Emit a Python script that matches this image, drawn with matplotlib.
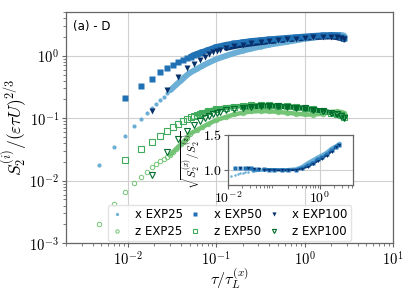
import numpy as np
import matplotlib
matplotlib.use('Agg')
import matplotlib.pyplot as plt
from matplotlib.ticker import LogLocator, NullFormatter

plt.rcParams.update({'font.size': 9,
                     'mathtext.fontset': 'cm'})

# ---- data ----
# x EXP25 (light blue dots)
x25 = [0.0047, 0.0070, 0.0093, 0.0117, 0.0140, 0.0163, 0.0187, 0.0210, 0.0233, 0.0257,
       0.0280, 0.0303, 0.0327, 0.0350, 0.0373, 0.0397, 0.0420, 0.0443, 0.0467, 0.05,
       0.06, 0.07, 0.08, 0.1, 0.13, 0.16, 0.2, 0.25, 0.32, 0.4,
       0.5, 0.63, 0.8, 1.0, 1.25, 1.6, 2.0, 2.3, 2.6, 2.8]
sx25 = [0.0175, 0.034, 0.052, 0.074, 0.097, 0.121, 0.144, 0.168, 0.195, 0.22,
        0.25, 0.28, 0.31, 0.34, 0.37, 0.40, 0.43, 0.46, 0.49, 0.53,
        0.61, 0.69, 0.76, 0.88, 1.0, 1.1, 1.2, 1.3, 1.4, 1.5,
        1.58, 1.66, 1.76, 1.86, 1.94, 2.02, 2.08, 2.12, 2.16, 2.1]
sz25 = [0.0020, 0.0042, 0.0065, 0.0091, 0.0115, 0.0139, 0.0164, 0.0185, 0.0204, 0.0222,
        0.0242, 0.026, 0.029, 0.032, 0.035, 0.038, 0.041, 0.044, 0.048, 0.056,
        0.064, 0.072, 0.080, 0.093, 0.105, 0.115, 0.122, 0.128, 0.13, 0.129,
        0.126, 0.122, 0.118, 0.115, 0.114, 0.118, 0.125, 0.128, 0.125, 0.12]

# EXP50
x50 = [0.0093, 0.0140, 0.0186, 0.0233, 0.0280, 0.0326, 0.0373, 0.0419, 0.0466, 0.0513,
       0.0559, 0.0606, 0.0652, 0.0699, 0.08, 0.1, 0.13, 0.16, 0.2, 0.25,
       0.32, 0.4, 0.5, 0.63, 0.8, 1.0, 1.25, 1.6, 2.0, 2.3, 2.6, 2.8]
sx50 = [0.207, 0.33, 0.43, 0.555, 0.635, 0.72, 0.80, 0.86, 0.92, 0.97,
        1.02, 1.07, 1.11, 1.15, 1.23, 1.38, 1.5, 1.57, 1.65, 1.72,
        1.78, 1.83, 1.88, 1.93, 1.98, 2.03, 2.08, 2.12, 2.15, 2.12, 2.0, 1.9]
sz50 = [0.0216, 0.0323, 0.042, 0.0525, 0.0625, 0.071, 0.081, 0.089, 0.097, 0.104,
        0.109, 0.114, 0.118, 0.122, 0.13, 0.14, 0.148, 0.153, 0.157, 0.16,
        0.161, 0.16, 0.158, 0.155, 0.15, 0.145, 0.138, 0.13, 0.122, 0.118, 0.112, 0.105]

# EXP100
x100 = [0.0186, 0.0280, 0.0373, 0.0466, 0.0559, 0.0652, 0.0746, 0.0839, 0.0932, 0.1025,
        0.1118, 0.13, 0.16, 0.2, 0.25, 0.32, 0.4, 0.5, 0.63, 0.8,
        1.0, 1.25, 1.6, 2.0, 2.3, 2.6, 2.8]
sx100 = [0.13, 0.285, 0.46, 0.63, 0.75, 0.86, 0.96, 1.06, 1.13, 1.2,
         1.25, 1.33, 1.42, 1.5, 1.57, 1.64, 1.7, 1.76, 1.82, 1.88,
         1.93, 1.98, 2.02, 2.03, 1.98, 1.9, 1.82]
sz100 = [0.0125, 0.029, 0.046, 0.063, 0.079, 0.089, 0.10, 0.11, 0.117, 0.122,
         0.127, 0.134, 0.142, 0.148, 0.152, 0.155, 0.156, 0.155, 0.152, 0.148,
         0.143, 0.137, 0.13, 0.122, 0.115, 0.108, 0.102]

# inset: sqrt ratio
ix25 = [0.0116, 0.014, 0.0163, 0.0186, 0.021, 0.0233, 0.028, 0.035, 0.045, 0.06,
        0.08, 0.1, 0.15, 0.2, 0.3, 0.4, 0.55, 0.7, 0.9, 1.1, 1.4, 1.8, 2.2, 2.7]
ir25 = [0.91, 0.925, 0.935, 0.945, 0.955, 0.96, 0.97, 0.98, 0.99, 0.995,
        1.0, 1.0, 1.0, 1.0, 1.01, 1.04, 1.1, 1.14, 1.18, 1.21, 1.25, 1.31, 1.34, 1.38]
ix50 = [0.0140, 0.0186, 0.0233, 0.028, 0.0326, 0.0373, 0.045, 0.06, 0.08, 0.1,
        0.15, 0.2, 0.3, 0.4, 0.55, 0.7, 0.9, 1.1, 1.4, 1.8, 2.2, 2.6]
ir50 = [1.025, 1.025, 1.022, 1.02, 1.018, 1.015, 1.01, 1.005, 1.0, 1.0,
        0.995, 0.995, 1.0, 1.02, 1.06, 1.1, 1.15, 1.18, 1.22, 1.28, 1.33, 1.36]
ix100 = [0.0186, 0.028, 0.0373, 0.0466, 0.06, 0.08, 0.1, 0.15, 0.2, 0.3,
         0.4, 0.55, 0.7, 0.9, 1.1, 1.4, 1.8, 2.2, 2.6]
ir100 = [1.02, 1.02, 1.015, 1.01, 1.0, 0.995, 0.99, 0.99, 0.99, 0.995,
         1.01, 1.04, 1.08, 1.12, 1.16, 1.2, 1.26, 1.32, 1.36]

c_x25, c_x50, c_x100 = '#6baed6', '#2171b5', '#08306b'
c_z25, c_z50, c_z100 = '#74c476', '#41ab5d', '#006d2c'


def dense_tail(ax, x, y, start, color, lw):
    # the real data is so dense here that the markers merge into a band
    x = np.asarray(x)
    y = np.asarray(y)
    m = x >= start
    ax.plot(x[m], y[m], '-', color=color, lw=lw, solid_capstyle='round', zorder=2)


def style_axes(ax):
    ax.grid(True, which='major', color='#d0d0d0', lw=0.8)
    ax.set_axisbelow(True)
    for s in ax.spines.values():
        s.set_color('#666666')
        s.set_linewidth(0.9)
    ax.tick_params(which='both', colors='#666666', labelcolor='black')
    ax.tick_params(which='major', length=3, width=0.8)
    ax.tick_params(which='minor', length=2, width=0.6)


fig = plt.figure(figsize=(4.15, 2.94), dpi=100)
ax = fig.add_axes([0.159, 0.173, 0.788, 0.786])
ax.set_xscale('log')
ax.set_yscale('log')

# z series (green, open)
dense_tail(ax, x25, sz25, 0.03, c_z25, 3.2)
dense_tail(ax, x50, sz50, 0.06, c_z50, 3.4)
dense_tail(ax, x100, sz100, 0.2, c_z100, 3.6)
# x series (blue, filled)
dense_tail(ax, x25, sx25, 0.03, c_x25, 4.2)
dense_tail(ax, x100, sx100, 0.13, c_x100, 4.2)
dense_tail(ax, x50, sx50, 0.05, c_x50, 4.2)

h_x25, = ax.plot(x25, sx25, 'o', ls='none', ms=3, color=c_x25, mec='none', label='x EXP25')
h_z25, = ax.plot(x25, sz25, 'o', ls='none', ms=3.2, mfc='none', mec=c_z25, mew=0.7, label='z EXP25')
h_x50, = ax.plot(x50, sx50, 's', ls='none', ms=4, color=c_x50, mec='none', label='x EXP50')
h_z50, = ax.plot(x50, sz50, 's', ls='none', ms=4, mfc='none', mec=c_z50, mew=0.8, label='z EXP50')
h_x100, = ax.plot(x100, sx100, 'v', ls='none', ms=4, color=c_x100, mec='none', label='x EXP100')
h_z100, = ax.plot(x100, sz100, 'v', ls='none', ms=4, mfc='none', mec=c_z100, mew=0.8, label='z EXP100')

ax.set_xlim(2e-3, 10)
ax.set_ylim(1e-3, 5)
ax.set_xticks([1e-2, 1e-1, 1e0, 1e1])
ax.set_xticklabels([r'$10^{-2}$', r'$10^{-1}$', r'$10^{0}$', r'$10^{1}$'])
ax.set_yticks([1e-3, 1e-2, 1e-1, 1e0])
ax.set_yticklabels([r'$10^{-3}$', r'$10^{-2}$', r'$10^{-1}$', r'$10^{0}$'])
ax.xaxis.set_minor_locator(LogLocator(base=10, subs=np.arange(2, 10), numticks=20))
ax.xaxis.set_minor_formatter(NullFormatter())
ax.yaxis.set_minor_formatter(NullFormatter())
style_axes(ax)
ax.tick_params(which='major', labelsize=10.5, pad=2)

ax.set_xlabel(r'$\tau/\tau_L^{(x)}$', fontsize=11.5, labelpad=-1)
ax.set_ylabel(r'$S_2^{(i)}/(\varepsilon\tau U)^{2/3}$', fontsize=12.5, labelpad=0)
ax.text(0.02, 0.965, '(a) - D', transform=ax.transAxes, va='top', ha='left', fontsize=8.5)

ax.legend(handles=[h_x25, h_z25, h_x50, h_z50, h_x100, h_z100], ncol=3,
          loc='lower center', bbox_to_anchor=(0.5, 0.0), fontsize=8.5,
          handlelength=0.9, handletextpad=1.1, columnspacing=0.6,
          labelspacing=0.3, borderpad=0.3, borderaxespad=0.15, markerscale=0.75,
          framealpha=0.8, edgecolor='#dddddd')

# inset
ins = fig.add_axes([0.549, 0.371, 0.301, 0.170])
ins.set_xscale('log')
dense_tail(ins, ix25, ir25, 0.03, c_x25, 2.4)
dense_tail(ins, ix50, ir50, 0.05, c_x50, 2.0)
dense_tail(ins, ix100, ir100, 0.05, c_x100, 1.2)
ins.plot(ix25, ir25, 'o', ls='none', ms=1.8, color=c_x25, mec='none')
ins.plot(ix50, ir50, 's', ls='none', ms=2.2, color=c_x50, mec='none')
ins.plot(ix100, ir100, 'v', ls='none', ms=2.2, color=c_x100, mec='none')
ins.set_xlim(1e-2, 5.2)
ins.set_ylim(0.78, 1.5)
ins.set_xticks([1e-2, 1e0])
ins.set_xticklabels([r'$10^{-2}$', r'$10^{0}$'])
ins.xaxis.set_minor_formatter(NullFormatter())
ins.set_yticks([1.0, 1.5])
ins.set_yticklabels([r'$1.0$', r'$1.5$'])
style_axes(ins)
ins.tick_params(which='major', labelsize=10, pad=1)
ins.set_ylabel(r'$\sqrt{S_2^{(x)}/S_2^{(z)}}$', fontsize=8, labelpad=0)

fig.savefig('out.png', dpi=100)
